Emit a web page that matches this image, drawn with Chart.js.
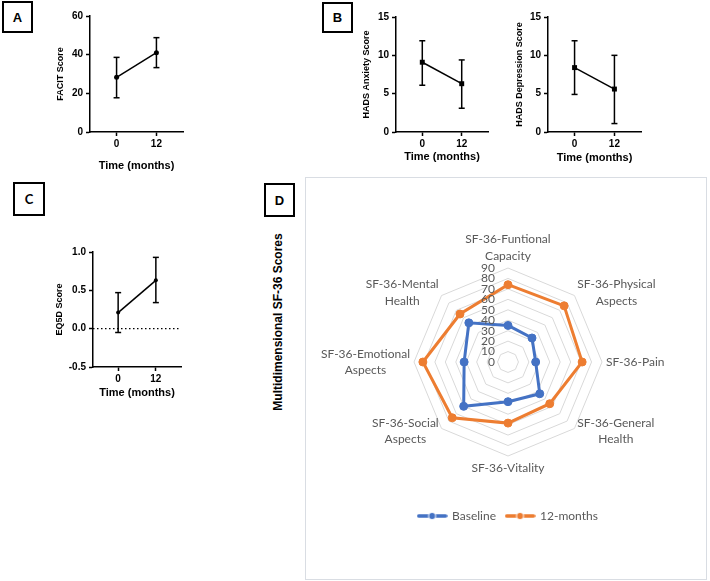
<!DOCTYPE html>
<html>
<head>
<meta charset="utf-8">
<script src="https://cdn.jsdelivr.net/npm/chart.js@4.4.0/dist/chart.umd.min.js"></script>
<style>
  body { margin:0; background:#fff; width:710px; height:581px; position:relative; overflow:hidden; font-family:'Liberation Sans', Arial, sans-serif; }
  canvas, .tag, .frame, .ytitle { position:absolute; }
  .tag { box-sizing:border-box; border:2px solid #000; font-weight:bold; font-size:13px; display:flex; align-items:center; justify-content:center; }
  .frame { box-sizing:border-box; border:1px solid #D9DDE3; }
  .ytitle { font-weight:bold; font-size:12px; white-space:nowrap; transform:translate(-50%,-50%) rotate(-90deg); }
</style>
</head>
<body>
<div class="tag" style="left:2px;top:1px;width:31px;height:32px">A</div>
<div class="tag" style="left:322px;top:2px;width:31px;height:31px">B</div>
<div class="tag" style="left:13px;top:182px;width:32px;height:34px;font-family:Lato">C</div>
<div class="tag" style="left:264px;top:183px;width:31px;height:34px">D</div>
<div class="frame" style="left:305px;top:177px;width:402px;height:403px"></div>
<div class="ytitle" style="left:278px;top:322px">Multidimensional SF-36 Scores</div>

<canvas id="facit" width="135" height="167" style="left:55px;top:6px"></canvas>
<canvas id="anx" width="134" height="157" style="left:361px;top:7px"></canvas>
<canvas id="dep" width="134" height="158" style="left:514px;top:7px"></canvas>
<canvas id="eq5d" width="134" height="158" style="left:54px;top:242px"></canvas>
<canvas id="sf36" width="400" height="400" style="left:306px;top:178px"></canvas>

<script>
// time points (months) and x range used by every small panel
const timeTicks = [0, 12];
const timeMin = -8;
const timeMax = 20;

// A - FACIT
const facitMean = [28.3, 41.0];
const facitLow = [17.7, 33.3];
const facitHigh = [38.6, 48.8];
const facitTicks = [0, 20, 40, 60];

// B - HADS
const anxMean = [9.1, 6.3];
const anxLow = [6.1, 3.1];
const anxHigh = [11.9, 9.4];
const depMean = [8.4, 5.6];
const depLow = [4.9, 1.1];
const depHigh = [11.9, 10.0];
const hadsTicks = [0, 5, 10, 15];

// C - EQ5D
const eqMean = [0.21, 0.63];
const eqLow = [-0.05, 0.34];
const eqHigh = [0.47, 0.93];
const eqTicks = [-0.5, 0, 0.5, 1.0];
const eqRef = 0;

// D - SF-36
const sfLabels = [
  ['SF-36-Funtional', 'Capacity'],
  ['SF-36-Physical', 'Aspects'],
  ['SF-36-Pain'],
  ['SF-36-General', 'Health'],
  ['SF-36-Vitality'],
  ['SF-36-Social', 'Aspects'],
  ['SF-36-Emotional', 'Aspects'],
  ['SF-36-Mental', 'Health']
];
const sfBaseline = [35, 32.5, 26.5, 43, 38, 60, 42, 53];
const sfMonth12 = [74, 76, 71, 56.5, 58.5, 75.5, 81.5, 65];
const sfTicks = [0, 10, 20, 30, 40, 50, 60, 70, 80, 90];

Chart.defaults.font.family = "'Liberation Sans', Arial, sans-serif";

function timeChart(id, o) {
  const datasets = [];
  timeTicks.forEach((t, i) => {
    datasets.push({
      data: [{x: t, y: o.low[i]}, {x: t, y: o.high[i]}],
      showLine: true, borderColor: '#000', borderWidth: 1.5,
      pointStyle: 'line', pointRadius: 3, pointBorderColor: '#000', pointBorderWidth: 1.5
    });
  });
  datasets.push({
    data: timeTicks.map((t, i) => ({x: t, y: o.mean[i]})),
    showLine: true, borderColor: '#000', borderWidth: 1.5,
    pointStyle: o.marker, pointRadius: o.radius,
    pointBackgroundColor: '#000', pointBorderColor: '#000', pointBorderWidth: 0
  });
  if (o.ref !== undefined) {
    datasets.push({
      data: [{x: timeMin, y: o.ref}, {x: timeMax, y: o.ref}],
      showLine: true, borderColor: '#000', borderWidth: 1.2, borderDash: [1.5, 2.5], pointRadius: 0
    });
  }

  new Chart(document.getElementById(id), {
    type: 'scatter',
    data: { datasets },
    options: {
      responsive: false,
      animation: false,
      events: [],
      layout: { padding: { left: 0, top: 10, right: 7, bottom: 0 }, autoPadding: false },
      plugins: { legend: { display: false }, tooltip: { enabled: false } },
      scales: {
        x: {
          type: 'linear', min: timeMin, max: timeMax,
          afterBuildTicks: s => { s.ticks = timeTicks.map(v => ({ value: v })); },
          afterFit: s => { s.height = o.xh; },
          grid: { drawOnChartArea: false, tickLength: 4, tickColor: '#000', tickWidth: 1.5 },
          border: { color: '#000', width: 1.5 },
          ticks: { color: '#000', font: { size: 10, weight: 'bold' }, padding: 2, maxRotation: 0, autoSkip: false },
          title: { display: true, text: 'Time (months)', color: '#000', font: { size: 11, weight: 'bold' }, padding: 0 }
        },
        y: {
          min: o.ticks[0], max: o.ticks[o.ticks.length - 1],
          afterBuildTicks: s => { s.ticks = o.ticks.map(v => ({ value: v })); },
          afterFit: s => { s.width = o.yw; },
          grid: { drawOnChartArea: false, tickLength: 4, tickColor: '#000', tickWidth: 1.5 },
          border: { color: '#000', width: 1.5 },
          ticks: { color: '#000', font: { size: 10, weight: 'bold' }, padding: 3, autoSkip: false, callback: o.fmt || (v => v) },
          title: { display: true, text: o.title, color: '#000', font: { size: 9, weight: 'bold' }, padding: 0 }
        }
      }
    }
  });
}

timeChart('facit', { mean: facitMean, low: facitLow, high: facitHigh, ticks: facitTicks, title: 'FACIT Score', marker: 'circle', radius: 2.5, yw: 35, xh: 41 });
timeChart('anx', { mean: anxMean, low: anxLow, high: anxHigh, ticks: hadsTicks, title: 'HADS Anxiety Score', marker: 'rect', radius: 3.5, yw: 35, xh: 32 });
timeChart('dep', { mean: depMean, low: depLow, high: depHigh, ticks: hadsTicks, title: 'HADS Depression Score', marker: 'rect', radius: 3.5, yw: 34, xh: 33 });
timeChart('eq5d', { mean: eqMean, low: eqLow, high: eqHigh, ticks: eqTicks, title: 'EQ5D Score', marker: 'circle', radius: 2, yw: 39, xh: 33, ref: eqRef, fmt: v => v.toFixed(1) });

// radar
const blue = '#4472C4';
const orange = '#ED7D31';

function legendIcon(color) {
  const c = document.createElement('canvas');
  c.width = 31; c.height = 10;
  const g = c.getContext('2d');
  g.strokeStyle = color; g.lineWidth = 3.5; g.lineCap = 'round';
  g.beginPath(); g.moveTo(2, 5); g.lineTo(29, 5); g.stroke();
  g.fillStyle = color;
  g.beginPath(); g.arc(15.5, 5, 3.5, 0, Math.PI * 2); g.fill();
  g.strokeStyle = 'rgba(255,255,255,0.8)'; g.lineWidth = 1.2; g.stroke();
  return c;
}
const legendIcons = [legendIcon(blue), legendIcon(orange)];

const sfText = {
  id: 'sfText',
  afterDatasetsDraw(chart) {
    const r = chart.scales.r;
    const ctx = chart.ctx;
    ctx.save();
    ctx.fillStyle = '#595959';
    ctx.font = '12px Lato';
    ctx.textAlign = 'right';
    ctx.textBaseline = 'middle';
    r.ticks.forEach(t => {
      ctx.fillText(String(t.value), r.xCenter - 13, r.yCenter - r.getDistanceFromCenterForValue(t.value));
    });
    ctx.textAlign = 'center';
    const lh = 16.4;
    chart.data.labels.forEach((lines, i) => {
      const p = r.getPointPosition(i, r.drawingArea + 4);
      const w = Math.max(...lines.map(s => ctx.measureText(s).width));
      const h = lines.length * lh;
      const cx = Math.cos(p.angle);
      const sy = Math.sin(p.angle);
      let x = p.x;
      let y = p.y;
      if (cx > 0.01) x += w / 2;
      else if (cx < -0.01) x -= w / 2;
      else y += sy * h / 2;
      lines.forEach((s, k) => ctx.fillText(s, x, y - h / 2 + lh * (k + 0.5)));
    });
    ctx.restore();
  }
};

new Chart(document.getElementById('sf36'), {
  type: 'radar',
  data: {
    labels: sfLabels,
    datasets: [
      { label: 'Baseline', data: sfBaseline, borderColor: blue, backgroundColor: blue, pointBackgroundColor: blue, pointBorderColor: blue, borderWidth: 3, pointRadius: 4, pointBorderWidth: 1, fill: false },
      { label: '12-months', data: sfMonth12, borderColor: orange, backgroundColor: orange, pointBackgroundColor: orange, pointBorderColor: orange, borderWidth: 3, pointRadius: 4, pointBorderWidth: 1, fill: false }
    ]
  },
  options: {
    responsive: false,
    animation: false,
    events: [],
    layout: { padding: { left: 4, right: 0, top: 90, bottom: 46 }, autoPadding: false },
    plugins: {
      tooltip: { enabled: false },
      legend: {
        position: 'bottom',
        title: { display: true, text: ' ', padding: { top: 29.6, bottom: 0 }, font: { size: 12 } },
        labels: {
          usePointStyle: true, pointStyleWidth: 28, padding: 10, color: '#595959',
          font: { family: 'Lato', size: 12 },
          generateLabels: chart => Chart.defaults.plugins.legend.labels.generateLabels(chart)
            .map((l, i) => Object.assign(l, { pointStyle: legendIcons[i] }))
        }
      }
    },
    scales: {
      r: {
        min: sfTicks[0], max: sfTicks[sfTicks.length - 1],
        startAngle: 0,
        afterBuildTicks: s => { s.ticks = sfTicks.map(v => ({ value: v })); },
        ticks: { display: false, stepSize: 10 },
        grid: { color: '#D9D9D9', lineWidth: 1 },
        angleLines: { display: false },
        pointLabels: { display: false }
      }
    }
  },
  plugins: [sfText]
});
</script>
</body>
</html>
